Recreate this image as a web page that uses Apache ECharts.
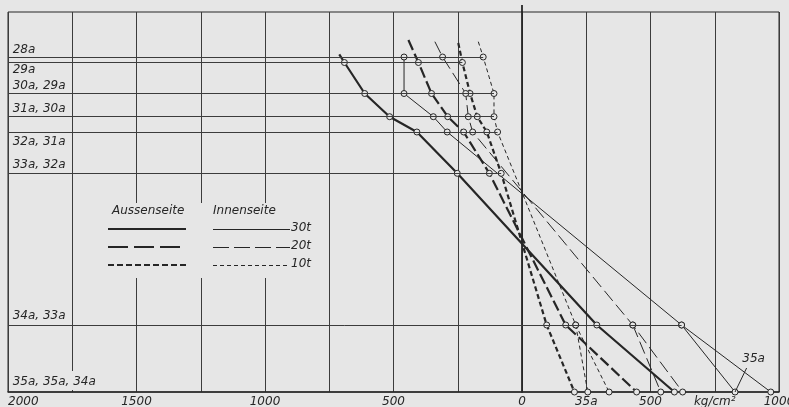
<!DOCTYPE html>
<html>
<head>
<meta charset="utf-8">
<script src="https://cdn.jsdelivr.net/npm/echarts@6/dist/echarts.min.js"></script>
<style>
html, body { margin: 0; padding: 0; background: #e6e6e6; }
#chart { width: 789px; height: 407px; }
</style>
</head>
<body>
<div id="chart"></div>
<script>
// Spannungsverlauf Aussenseite / Innenseite fuer 30t, 20t, 10t
// x = Spannung in kg/cm2 (links Druck), y = Lage des Schnitts von oben

var ink = '#262626';
var paper = '#e6e6e6';
var font = '"DejaVu Sans", sans-serif';

// Schnitte (horizontale Linien) und ihre Beschriftung
var rowY      = [45, 50.5, 81.5, 104.7, 120, 161.3, 313];
var rowEnd    = [-151, -232, -109, -109, -95, -81, 621];   // Linie endet am letzten Kreis
var rowLabels = ['28a', '29a', '30a, 29a', '31a, 30a', '32a, 31a', '33a, 32a', '34a, 33a', '35a, 35a, 34a'];
var rowLabelY = [38, 58, 74, 97, 130, 153, 304, 370];

// Aussenseite (erster Punkt = Linienanfang ohne Kreis)
var aussen30 = [[-711, 42.3], [-691, 50.5], [-612, 81.5], [-515, 104.7], [-409, 120], [-252, 161.3], [291, 313], [593, 380]];
var aussen20 = [[-442, 28], [-403, 50.5], [-352, 81.5], [-289, 104.7], [-227, 120], [-127, 161.3], [170, 313], [446, 380]];
var aussen10 = [[-248, 31], [-232, 50.5], [-202, 81.5], [-174, 104.7], [-137, 120], [-81, 161.3], [96, 313], [204, 380]];

// Innenseite
var innen30 = [[-459, 45], [-459, 81.5], [-345, 104.7], [-291, 120], [621, 313], [968, 380]];
var innen20 = [[-339, 29.7], [-309, 45], [-219, 81.5], [-209, 104.7], [-192, 120], [431, 313], [625, 380]];
var innen10 = [[-170, 29.7], [-151, 45], [-109, 81.5], [-109, 104.7], [-95, 120], [209, 313], [339, 380]];

// Innenseite 35a (Abzweig vom 33a-Punkt)
var innen30b = [[621, 313], [829, 380]];
var innen20b = [[431, 313], [540, 380]];
var innen10b = [[209, 313], [256, 380]];

// Beschriftung 35a rechts mit Hinweislinie
var note35 = [901, 346.5];
var note35Line = [[829, 380], [874, 356]];

function linie(name, data, width, dash, offenerStart) {
	return {
		name: name,
		type: 'line',
		data: data.map(function(p, i) {
			if (i === 0 && offenerStart) return { value: p, symbol: 'none' };
			return p;
		}),
		symbol: 'circle',
		symbolSize: 6,
		lineStyle: { color: ink, width: width, type: dash },
		itemStyle: { color: paper, borderColor: ink, borderWidth: 1 },
		silent: true,
		z: 3
	};
}

var chart = echarts.init(document.getElementById('chart'));

var option = {
	animation: false,
	backgroundColor: paper,
	grid: {
		left: 8, right: 10, top: 12, bottom: 15,
		show: true, borderColor: ink, borderWidth: 1,
		outerBoundsMode: 'none', containLabel: false
	},
	xAxis: {
		type: 'value', min: -2000, max: 1000, interval: 250, z: 0,
		axisLine: { onZero: false, lineStyle: { color: ink, width: 1.5 } },
		axisTick: { show: false },
		axisLabel: {
			color: ink, fontSize: 12, fontStyle: 'italic', fontFamily: font, margin: 4,
			showMinLabel: true, showMaxLabel: true, alignMinLabel: 'left',
			formatter: function(v) {
				if (v === 750) return 'kg/cm²';
				if (v === 250) return '35a';
				if (v % 500 !== 0) return '';
				return String(Math.abs(v));
			}
		},
		splitLine: { show: true, lineStyle: { color: '#3c3c3c', width: 1 } }
	},
	yAxis: {
		type: 'value', min: 0, max: 380, inverse: true, z: 4,
		axisLine: { show: true, onZero: true, lineStyle: { color: ink, width: 1.8 } },
		axisTick: { show: false },
		axisLabel: { show: false },
		splitLine: { show: false }
	},
	graphic: [
		// Rasterlinien hinter Legende und Beschriftung ausblenden
		{ type: 'rect', z: 1, shape: { x: 100, y: 203, width: 215, height: 75 }, style: { fill: paper } },
		{ type: 'rect', z: 1, shape: { x: 64, y: 371, width: 14, height: 19 }, style: { fill: paper } },
		// Legende
		{ type: 'text', z: 5, x: 112, y: 205, style: { text: 'Aussenseite', font: 'italic 12px ' + font, fill: ink } },
		{ type: 'text', z: 5, x: 213, y: 205, style: { text: 'Innenseite', font: 'italic 12px ' + font, fill: ink } },
		{ type: 'line', z: 5, shape: { x1: 108, y1: 229, x2: 186, y2: 229 }, style: { stroke: ink, lineWidth: 2.2 } },
		{ type: 'line', z: 5, shape: { x1: 213, y1: 229.5, x2: 290, y2: 229.5 }, style: { stroke: ink, lineWidth: 1 } },
		{ type: 'text', z: 5, x: 291, y: 222, style: { text: '30t', font: 'italic 12px ' + font, fill: ink } },
		{ type: 'line', z: 5, shape: { x1: 108, y1: 247, x2: 186, y2: 247 }, style: { stroke: ink, lineWidth: 2.2, lineDash: [20, 6] } },
		{ type: 'line', z: 5, shape: { x1: 213, y1: 247.5, x2: 290, y2: 247.5 }, style: { stroke: ink, lineWidth: 1, lineDash: [16, 5] } },
		{ type: 'text', z: 5, x: 291, y: 240, style: { text: '20t', font: 'italic 12px ' + font, fill: ink } },
		{ type: 'line', z: 5, shape: { x1: 108, y1: 265, x2: 186, y2: 265 }, style: { stroke: ink, lineWidth: 2.2, lineDash: [6, 3] } },
		{ type: 'line', z: 5, shape: { x1: 213, y1: 265.5, x2: 290, y2: 265.5 }, style: { stroke: ink, lineWidth: 1, lineDash: [4, 3] } },
		{ type: 'text', z: 5, x: 291, y: 258, style: { text: '10t', font: 'italic 12px ' + font, fill: ink } }
	],
	series: [
		{
			// horizontale Schnittlinien
			type: 'line', data: [], silent: true, z: 1,
			markLine: {
				silent: true, symbol: ['none', 'none'], animation: false,
				label: { show: false },
				lineStyle: { color: '#3c3c3c', width: 1, type: 'solid' },
				data: rowEnd.map(function(x, i) {
					return [{ coord: [-2000, rowY[i]] }, { coord: [x, rowY[i]] }];
				})
			}
		},
		{
			// Nulllinie ueber den Rahmen hinaus
			type: 'line', data: [[0, -7], [0, 0]], symbol: 'none', clip: false, silent: true, z: 4,
			lineStyle: { color: ink, width: 1.8 }
		},
		linie('Aussenseite 30t', aussen30, 2.2, 'solid', true),
		linie('Aussenseite 20t', aussen20, 2.2, [11, 4], true),
		linie('Aussenseite 10t', aussen10, 2.2, [5, 3], true),
		linie('Innenseite 30t', innen30, 1, 'solid', false),
		linie('Innenseite 20t', innen20, 1, [13, 5], true),
		linie('Innenseite 10t', innen10, 1, [4, 3], true),
		linie('Innenseite 30t 35a', innen30b, 1, 'solid', false),
		linie('Innenseite 20t 35a', innen20b, 1, [13, 5], false),
		linie('Innenseite 10t 35a', innen10b, 1, [4, 3], false),
		{
			// Schnittbezeichnungen links
			type: 'scatter', symbolSize: 0, silent: true, z: 5,
			itemStyle: { opacity: 1 },
			data: rowLabels.map(function(t, i) {
				return { name: t, value: [-1982, rowLabelY[i]] };
			}),
			label: {
				show: true, position: 'right', distance: 0, formatter: '{b}',
				color: ink, fontSize: 12, fontStyle: 'italic', fontFamily: font
			}
		},
		{
			// 35a Hinweis rechts
			type: 'scatter', symbolSize: 0, silent: true, z: 2,
			itemStyle: { opacity: 1 },
			data: [{ name: '35a', value: note35 }],
			label: {
				show: true, position: 'inside', formatter: '{b}',
				color: ink, fontSize: 12, fontStyle: 'italic', fontFamily: font
			},
			markLine: {
				silent: true, symbol: ['none', 'none'], animation: false,
				label: { show: false },
				lineStyle: { color: ink, width: 1, type: 'solid' },
				data: [[{ coord: note35Line[0] }, { coord: note35Line[1] }]]
			}
		}
	]
};

chart.setOption(option);
</script>
</body>
</html>
